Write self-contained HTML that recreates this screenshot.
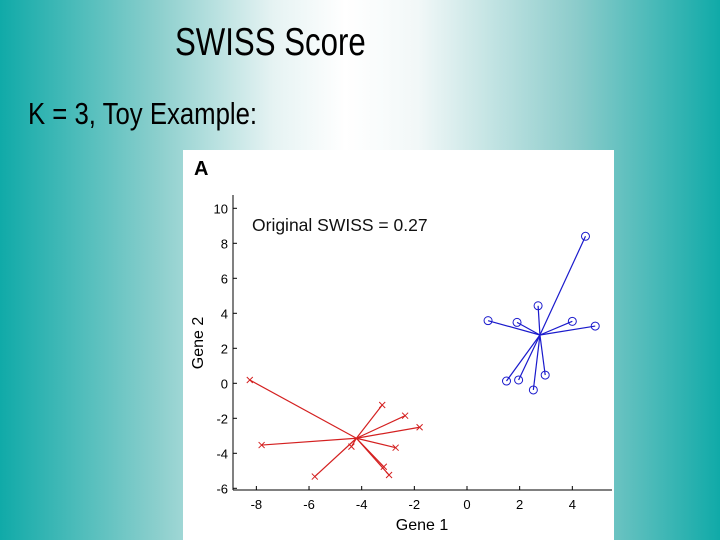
<!DOCTYPE html>
<html><head><meta charset="utf-8"><style>
html,body{margin:0;padding:0;}
body{width:720px;height:540px;overflow:hidden;position:relative;font-family:"Liberation Sans",sans-serif;
background:linear-gradient(to right,#10aaa8 0%,#8ccfcd 22%,#e6f3f3 38%,#ffffff 48%,#f2f8f8 58%,#8ccccb 80%,#10aaa8 100%);}
.t{position:absolute;white-space:nowrap;color:#000;transform-origin:0 0;}
</style></head><body>
<div class="t" style="left:175px;top:21px;font-size:39px;transform:scaleX(0.80);">SWISS Score</div>
<div class="t" style="left:28px;top:96px;font-size:31px;transform:scaleX(0.83);">K = 3, Toy Example:</div>
<svg id="chart" width="720" height="540" style="position:absolute;left:0;top:0" font-family="Liberation Sans, sans-serif">
<rect x="183" y="150" width="431" height="390" fill="#fff"/>
<text x="194" y="175" font-size="20" font-weight="bold">A</text>
<text x="252" y="231" font-size="17.5" fill="#111">Original SWISS = 0.27</text>
<g id="axes"></g><g id="marks"></g>
</svg>
<script>
const xTicks=[-8,-6,-4,-2,0,2,4];
const yTicks=[-6,-4,-2,0,2,4,6,8,10];
const blueCenter=[2.77,2.76];
const blueX=[4.5,2.7,0.8,1.9,4.0,4.87,1.5,1.96,2.52,2.97];
const blueY=[8.4,4.43,3.58,3.48,3.54,3.27,0.13,0.19,-0.38,0.47];
const redCenter=[-4.2,-3.14];
const redX=[-8.25,-7.8,-5.78,-4.39,-3.22,-2.35,-1.8,-2.71,-3.16,-2.96];
const redY=[0.19,-3.53,-5.33,-3.62,-1.24,-1.85,-2.51,-3.68,-4.77,-5.24];
const sx=v=>467+v*26.33, sy=v=>383.3-v*17.5;
const NS='http://www.w3.org/2000/svg';
function mk(p,tag,a){const e=document.createElementNS(NS,tag);for(const k in a)e.setAttribute(k,a[k]);p.appendChild(e);return e;}
const ax=document.getElementById('axes'), mg=document.getElementById('marks');
let e=mk(ax,'line',{x1:233,y1:195,x2:233,y2:490,stroke:'#000'});


e=mk(ax,'line',{x1:233,y1:490,x2:612,y2:490,stroke:'#000'});


xTicks.forEach(v=>{mk(ax,'line',{x1:sx(v),y1:490,x2:sx(v),y2:486,stroke:'#000'});
 const t=mk(ax,'text',{x:sx(v),y:509,'font-size':13,'text-anchor':'middle'});t.textContent=v;
 
 });
yTicks.forEach(v=>{mk(ax,'line',{x1:233,y1:sy(v),x2:237,y2:sy(v),stroke:'#000'});
 const t=mk(ax,'text',{x:228,y:sy(v)+5,'font-size':13,'text-anchor':'end'});t.textContent=v;
 
 });
e=mk(ax,'text',{x:422,y:530,'font-size':16,'text-anchor':'middle'});e.textContent='Gene 1';


e=mk(ax,'text',{x:0,y:0,'font-size':16,'text-anchor':'middle',transform:'translate(203,343) rotate(-90)'});e.textContent='Gene 2';


blueX.forEach((v,i)=>{const cx=sx(v),cy=sy(blueY[i]);
 mk(mg,'line',{x1:sx(blueCenter[0]),y1:sy(blueCenter[1]),x2:cx,y2:cy,stroke:'#1a1acc','stroke-width':1.2});
 const c=mk(mg,'circle',{cx:cx,cy:cy,r:4,fill:'none',stroke:'#1a1acc'});
 
 });
redX.forEach((v,i)=>{const cx=sx(v),cy=sy(redY[i]);
 mk(mg,'line',{x1:sx(redCenter[0]),y1:sy(redCenter[1]),x2:cx,y2:cy,stroke:'#d42020','stroke-width':1.2});
 const p=mk(mg,'path',{d:`M${cx-3},${cy-3}L${cx+3},${cy+3}M${cx-3},${cy+3}L${cx+3},${cy-3}`,stroke:'#d42020'});
 
 });
</script>
</body></html>
